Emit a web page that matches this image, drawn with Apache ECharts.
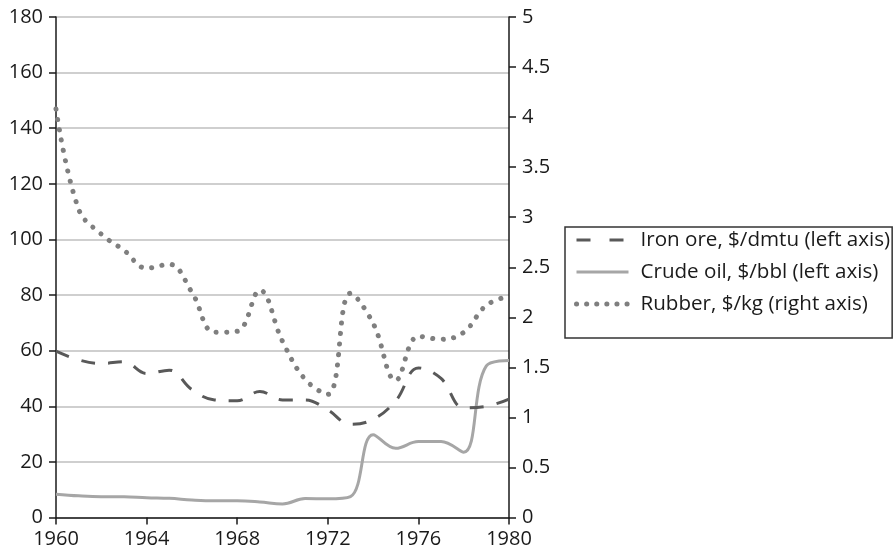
<!DOCTYPE html>
<html>
<head>
<meta charset="utf-8">
<script src="https://cdn.jsdelivr.net/npm/echarts@6/dist/echarts.min.js"></script>
<style>
  html, body { margin: 0; padding: 0; background: #fff; }
  #chart { width: 896px; height: 552px; }
</style>
</head>
<body>
<div id="chart"></div>
<script>
const years = [1960, 1961, 1962, 1963, 1964, 1965, 1966, 1967, 1968, 1969, 1970,
  1971, 1972, 1973, 1974, 1975, 1976, 1977, 1978, 1979, 1980]
const ironOre = [59.8, 56.7, 55.4, 56, 51.8, 53, 46, 42.3, 42, 45.3, 42.3,
  42.3, 38.7, 33.5, 35.3, 42, 53.8, 50, 39.5, 40, 42.6]
const crudeOil = [8.4, 7.8, 7.5, 7.5, 7.1, 6.9, 6.3, 6.0, 6.0, 5.6, 4.9,
  6.8, 6.7, 7.5, 29.8, 24.9, 27.3, 27.3, 23.5, 54.5, 56.5]
const rubber = [4.08, 3.08, 2.83, 2.67, 2.49, 2.53, 2.25, 1.85, 1.86, 2.27, 1.76,
  1.38, 1.23, 2.24, 1.94, 1.37, 1.81, 1.78, 1.85, 2.12, 2.21]
const seriesNames = ['Iron ore, $/dmtu (left axis)', 'Crude oil, $/bbl (left axis)', 'Rubber, $/kg (right axis)']

const font = 'Open Sans'
const ink = '#1a1a1a'

function pairs(values) {
  return years.map((y, i) => [y, values[i]])
}

const chart = echarts.init(document.getElementById('chart'))
chart.setOption({
  animation: false,
  backgroundColor: '#fff',
  textStyle: { fontFamily: font },
  grid: { left: 56, right: 387, top: 17, bottom: 34.5 },
  legend: {
    orient: 'vertical',
    left: 565,
    top: 227,
    padding: [1, 2, 22, 9],
    itemGap: 8,
    itemWidth: 52,
    itemHeight: 14,
    borderColor: '#333',
    borderWidth: 1.5,
    backgroundColor: '#fff',
    itemStyle: { opacity: 0 },
    textStyle: { fontFamily: font, fontSize: 20.6, color: ink, lineHeight: 24, padding: [0, 0, 0, 7] },
    data: [
      { name: seriesNames[0], lineStyle: { type: [14, 19], width: 3 } },
      { name: seriesNames[1], lineStyle: { width: 3 } },
      { name: seriesNames[2], lineStyle: { type: [0.1, 10], width: 5, cap: 'round' } }
    ]
  },
  xAxis: {
    type: 'value',
    min: 1960,
    max: 1980,
    interval: 4,
    axisLine: { lineStyle: { color: ink, width: 1.5 } },
    axisTick: { show: true, length: 7, lineStyle: { color: ink, width: 1.5 } },
    axisLabel: { color: ink, fontSize: 20, margin: 12, formatter: (v) => String(v) },
    splitLine: { show: false }
  },
  yAxis: [
    {
      type: 'value',
      min: 0,
      max: 180,
      interval: 20,
      axisLine: { show: true, lineStyle: { color: ink, width: 1.5 } },
      axisTick: { show: true, length: 7, lineStyle: { color: ink, width: 1.5 } },
      axisLabel: { color: ink, fontSize: 20, margin: 13 },
      splitLine: { lineStyle: { color: '#bfbfbf', width: 1.5 } }
    },
    {
      type: 'value',
      position: 'right',
      min: 0,
      max: 5,
      interval: 0.5,
      axisLine: { show: true, lineStyle: { color: ink, width: 1.5 } },
      axisTick: { show: true, length: 7, lineStyle: { color: ink, width: 1.5 } },
      axisLabel: { color: ink, fontSize: 20, margin: 13 },
      splitLine: { show: false }
    }
  ],
  series: [
    {
      name: seriesNames[0],
      type: 'line',
      yAxisIndex: 0,
      smooth: 0.4,
      showSymbol: false,
      symbol: 'none',
      data: pairs(ironOre),
      itemStyle: { color: '#595959' },
      lineStyle: { color: '#595959', width: 3, type: [14, 13] },
      z: 3
    },
    {
      name: seriesNames[1],
      type: 'line',
      yAxisIndex: 0,
      smooth: 0.4,
      showSymbol: false,
      symbol: 'none',
      data: pairs(crudeOil),
      itemStyle: { color: '#a6a6a6' },
      lineStyle: { color: '#a6a6a6', width: 3 },
      z: 2
    },
    {
      name: seriesNames[2],
      type: 'line',
      yAxisIndex: 1,
      smooth: 0.4,
      showSymbol: false,
      symbol: 'none',
      data: pairs(rubber),
      itemStyle: { color: '#7f7f7f' },
      lineStyle: { color: '#7f7f7f', width: 5, type: [0.1, 10.4], cap: 'round' },
      z: 4
    }
  ]
})
</script>
</body>
</html>
